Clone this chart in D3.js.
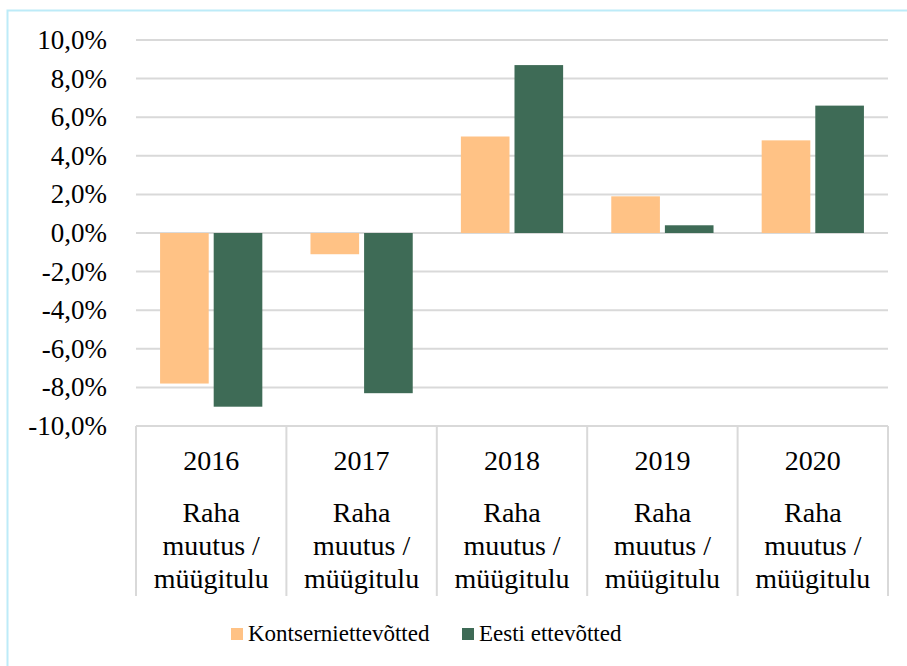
<!DOCTYPE html>
<html>
<head>
<meta charset="utf-8">
<script src="https://cdn.jsdelivr.net/npm/d3@7"></script>
<style>
body { margin: 0; background: #fff; }
</style>
</head>
<body>
<svg id="chart" width="907" height="666"></svg>
<script>
var years = ["2016", "2017", "2018", "2019", "2020"];
var catLabel = ["Raha", "muutus /", "müügitulu"];
var seriesNames = ["Kontserniettevõtted", "Eesti ettevõtted"];
var kontsern = [-7.8, -1.1, 5.0, 1.9, 4.8];
var eesti = [-9.0, -8.3, 8.7, 0.4, 6.6];
var yTicks = [10, 8, 6, 4, 2, 0, -2, -4, -6, -8, -10];
var colors = ["#FFC285", "#3E6B56"];

var serif = "'Liberation Serif'";
var plotLeft = 136, plotRight = 888;
var plotTop = 40, plotBot = 426;
var catBot = 596;

var svg = d3.select("#chart");

// outer frame
svg.append("rect")
.attr("x", 7.5).attr("y", 10.5)
.attr("width", 910).attr("height", 670)
.attr("fill", "none")
.attr("stroke", "#BDEBF8")
.attr("stroke-width", 2);

var x = d3.scaleBand()
.domain(years)
.range([plotLeft, plotRight]);

var xs = d3.scaleBand()
.domain([0, 1])
.range([0, x.bandwidth()])
.paddingInner(0.093)
.paddingOuter(0.449);

var y = d3.scaleLinear()
.domain([-10, 10])
.range([plotBot, plotTop]);

// gridlines
svg.append("g").selectAll("line").data(yTicks)
.enter().append("line")
.attr("x1", plotLeft).attr("x2", plotRight)
.attr("y1", function(d) { return y(d); })
.attr("y2", function(d) { return y(d); })
.attr("stroke", "#D9D9D9")
.attr("stroke-width", 2);

// y labels
svg.append("g").selectAll("text").data(yTicks)
.enter().append("text")
.attr("x", 107)
.attr("y", function(d) { return y(d) + 9; })
.attr("text-anchor", "end")
.style("font-family", serif)
.attr("font-size", 27)
.text(function(d) { return d3.format(".1f")(d).replace("−", "-").replace(".", ",") + "%"; });

// category dividers
var divs = years.map(function(d) { return x(d); }).concat([plotRight]);
svg.append("g").selectAll("line").data(divs)
.enter().append("line")
.attr("x1", function(d) { return d; }).attr("x2", function(d) { return d; })
.attr("y1", plotBot).attr("y2", catBot)
.attr("stroke", "#D9D9D9")
.attr("stroke-width", 2);

// bars
var series = [kontsern, eesti];
series.forEach(function(vals, s) {
	svg.append("g").selectAll("rect").data(vals)
	.enter().append("rect")
	.attr("x", function(d, i) { return x(years[i]) + xs(s); })
	.attr("width", xs.bandwidth())
	.attr("y", function(d) { return y(Math.max(0, d)); })
	.attr("height", function(d) { return Math.abs(y(d) - y(0)); })
	.attr("fill", colors[s]);
});

// category labels
var gCat = svg.append("g");
years.forEach(function(yr) {
	var cx = x(yr) + x.bandwidth() / 2;
	gCat.append("text")
	.attr("x", cx).attr("y", 470)
	.attr("text-anchor", "middle")
	.style("font-family", serif)
	.attr("font-size", 28)
	.text(yr);
	catLabel.forEach(function(t, j) {
		gCat.append("text")
		.attr("x", cx).attr("y", 522 + j * 33)
		.attr("text-anchor", "middle")
		.style("font-family", serif)
		.attr("font-size", 28)
		.text(t);
	});
});

// legend
var legendX = [231, 462];
seriesNames.forEach(function(name, s) {
	svg.append("rect")
	.attr("x", legendX[s]).attr("y", 628)
	.attr("width", 12).attr("height", 12)
	.attr("fill", colors[s]);
	svg.append("text")
	.attr("x", legendX[s] + 17).attr("y", 641)
	.style("font-family", serif)
	.attr("font-size", 23)
	.text(name);
});
</script>
</body>
</html>
